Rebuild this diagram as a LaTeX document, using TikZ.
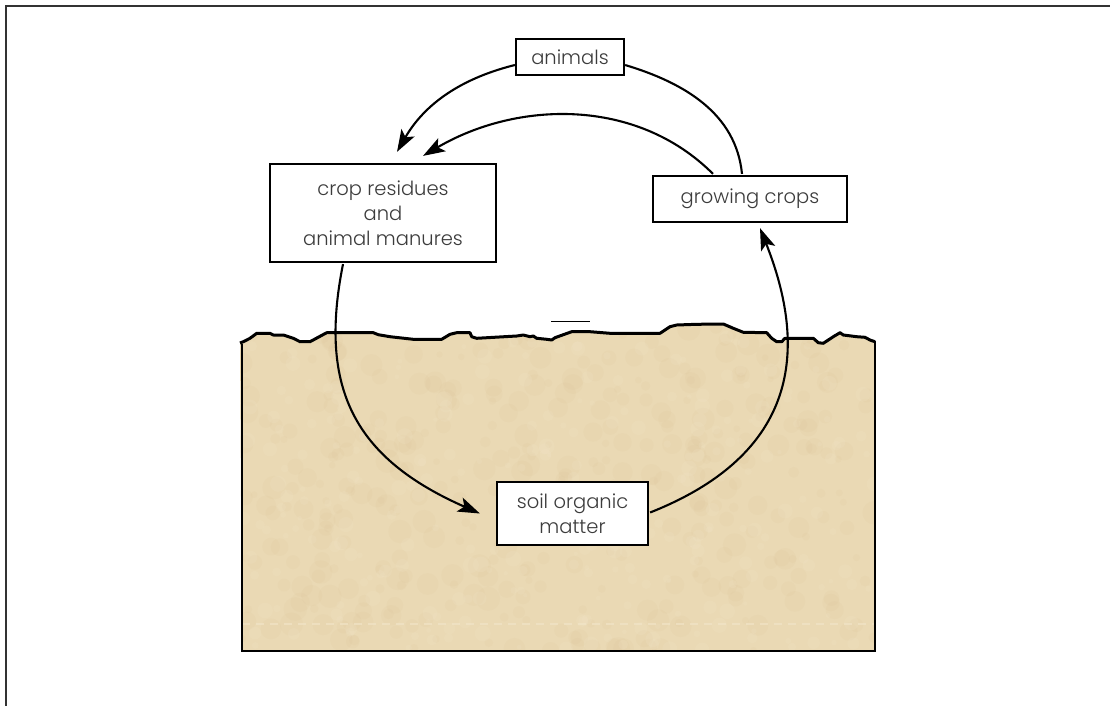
\documentclass[tikz,border=0pt]{standalone}
\usepackage{fontspec}
\setmainfont{Poppins}[UprightFont={* Light}]
\usetikzlibrary{arrows.meta,calc}
\definecolor{soil}{RGB}{234,217,180}
\definecolor{soildark}{RGB}{218,194,150}
\definecolor{soillight}{RGB}{242,230,202}
\definecolor{txt}{RGB}{60,60,60}
\definecolor{frame}{RGB}{50,50,50}
\tikzset{
  box/.style={draw=black,line width=2.2pt,fill=white,text=txt,align=center,
    font=\fontsize{19.5}{25}\selectfont,inner sep=0pt},
  flow/.style={line width=2.1pt,-{Stealth[length=22pt,width=15pt,inset=5pt]}},
  plain/.style={line width=2.1pt}
}
\begin{document}
\begin{tikzpicture}[x=1pt,y=-1pt]
\useasboundingbox (0,0) rectangle (1110,706);
\fill[white] (0,0) rectangle (1110,706);
% frame
\draw[frame,line width=1.6pt] (6,706) -- (6,6) -- (1110,6);
% soil
\def\soiltop{(240,343) -- (243.3,341.7) -- (250,338.3) -- (256.7,333.3) -- (270,333.3) -- (273.3,335) -- (283.3,335) -- (293.3,338.3) -- (300,341.7) -- (310,341.7) -- (326.7,332.7) -- (373.3,332.7) -- (378.3,334.7) -- (390,336.7) -- (413.3,339.3) -- (441.7,339.3) -- (450,334.3) -- (456.7,332.7) -- (470,332.7) -- (471.7,336.7) -- (476.7,338.3) -- (516.7,336) -- (523.3,335) -- (530,336.7) -- (533.3,336) -- (536.7,338.3) -- (546.7,339.3) -- (551.7,340) -- (555,337.7) -- (563.3,334.7) -- (571.7,331.7) -- (590,331.7) -- (610,333.3) -- (660,333.3) -- (670,326.7) -- (676.7,325) -- (696.7,324.3) -- (723.3,324) -- (733.3,328.3) -- (743.3,332.3) -- (766.7,332.7) -- (771.7,338.3) -- (776.7,341.7) -- (781.7,341.7) -- (785,338.3) -- (813.3,338.3) -- (818.3,342.7) -- (823.3,343.3) -- (833.3,336.7) -- (840,332.7) -- (843.3,335) -- (856.7,336.7) -- (865,337.3) -- (870,340) -- (875,341.7)}
\begin{scope}
\clip (242,651) -- \soiltop -- (875,651) -- cycle;
\fill[soil] (230,300) rectangle (890,660);
\pgfmathsetseed{7}
\foreach \i in {1,...,400}{
  \pgfmathsetmacro{\px}{242+rnd*633}
  \pgfmathsetmacro{\py}{320+rnd*331}
  \pgfmathsetmacro{\pr}{3+rnd*9}
  \fill[soildark,opacity=0.12] (\px,\py) circle[radius=\pr];
}
\foreach \i in {1,...,300}{
  \pgfmathsetmacro{\px}{242+rnd*633}
  \pgfmathsetmacro{\py}{320+rnd*331}
  \pgfmathsetmacro{\pr}{2+rnd*6}
  \fill[soillight,opacity=0.18] (\px,\py) circle[radius=\pr];
}
\draw[soillight,line width=1.2pt,dash pattern=on 8pt off 6pt,opacity=0.6] (242,624) -- (875,624);
\end{scope}
\draw[black,line width=3pt,line join=round] \soiltop;
\draw[black,line width=2.4pt] (242,344) -- (242,651) -- (875,651) -- (875,341);
\draw[black,line width=1.2pt] (551,321.5) -- (590,321.5);
% boxes
\node[box,minimum width=108pt,minimum height=36pt] (animals) at (570,57) {animals};
\node[box,minimum width=226pt,minimum height=98pt] (crop) at (383,213) {crop residues\\and\\animal manures};
\node[box,minimum width=194pt,minimum height=46pt] (grow) at (750,199) {growing crops};
\node[box,minimum width=151pt,minimum height=63pt] (som) at (572.5,513.5) {soil organic\\matter};
% connectors
\draw[flow] ($(animals.west)+(0,8)$) .. controls +(-60,15) and +(25,-43.5) .. ($(crop.north)+(14,-11)$);
\draw[flow] ($(grow.north)+(-37,-1)$) .. controls +(-77,-77) and +(93.5,-55) .. ($(crop.north)+(40,-7)$);
\draw[plain] ($(animals.east)+(0,8)$) .. controls +(60,18) and +(-6,-60) .. ($(grow.north)+(-8,-1)$);
\draw[flow] ($(crop.south)+(-40,1)$) .. controls +(-25,125) and +(-125,-55) .. ($(som.west)+(-16,0)$);
\draw[flow] ($(som.east)+(1,-1)$) .. controls +(149,-59) and +(48,121) .. ($(grow.south)+(10,5)$);
\end{tikzpicture}
\end{document}
